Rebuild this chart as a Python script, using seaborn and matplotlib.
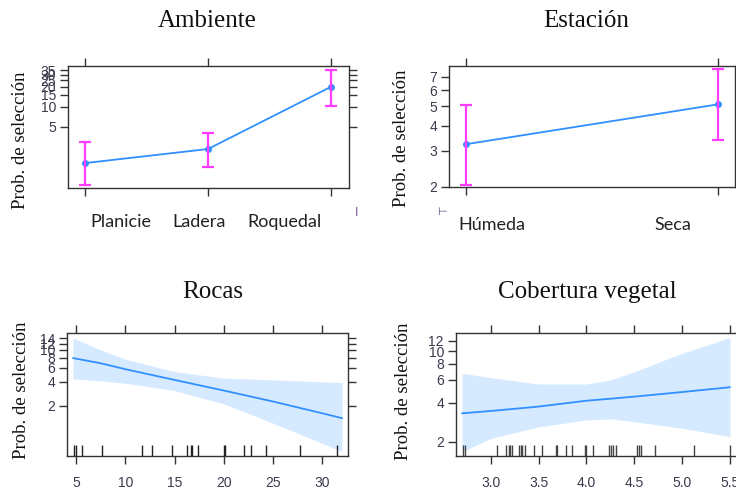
import matplotlib
matplotlib.use("Agg")
import matplotlib.pyplot as plt
from matplotlib.ticker import NullLocator, FixedLocator
import seaborn as sns
import numpy as np

# ---------------- data ----------------
amb_cats = ["Planicie", "Ladera", "Roquedal"]
amb_fit = [1.42, 2.31, 19.9]
amb_low = [0.66, 1.25, 10.2]
amb_up = [2.98, 4.06, 35.6]
amb_yticks = [5, 10, 15, 20, 25, 30, 35]

est_cats = ["Húmeda", "Seca"]
est_fit = [3.24, 5.1]
est_low = [2.04, 3.4]
est_up = [5.05, 7.6]
est_yticks = [2, 3, 4, 5, 6, 7]

rocas_x = [4.7, 7.5, 10, 15, 20, 25, 30, 32]
rocas_fit = [7.9, 6.8, 5.73, 4.2, 3.09, 2.25, 1.6, 1.39]
rocas_up = [14.0, 10.0, 7.65, 5.34, 4.42, 4.2, 3.97, 3.89]
rocas_low = [4.33, 4.08, 3.82, 3.09, 2.1, 1.2, 0.67, 0.53]
rocas_rug = [4.8, 4.97, 5.58, 7.6, 11.67, 12.69, 14.72, 16.24, 16.68, 16.75,
             17.36, 20.06, 20.13, 22.06, 22.77, 24.26, 27.74, 31.47]
rocas_xticks = [5, 10, 15, 20, 25, 30]
rocas_yticks = [2, 4, 6, 8, 10, 12, 14]

cob_x = [2.7, 3.0, 3.5, 4.0, 4.25, 4.5, 5.0, 5.5]
cob_fit = [3.31, 3.45, 3.73, 4.14, 4.29, 4.45, 4.83, 5.26]
cob_up = [6.74, 6.23, 5.57, 5.57, 5.98, 6.93, 9.61, 12.7]
cob_low = [1.67, 2.12, 2.6, 2.94, 3.0, 2.85, 2.54, 2.19]
cob_rug = [2.714, 2.735, 3.07, 3.16, 3.19, 3.20, 3.22, 3.30, 3.32, 3.33, 3.355,
           3.45, 3.54, 3.68, 3.69, 3.79, 3.85, 3.99, 4.0, 4.07, 4.24, 4.26,
           4.28, 4.31, 4.53, 4.55, 4.57, 4.72, 5.12, 5.5]
cob_xticks = [3.0, 3.5, 4.0, 4.5, 5.0, 5.5]
cob_yticks = [2, 4, 6, 8, 10, 12]

titles = ["Ambiente", "Estación", "Rocas", "Cobertura vegetal"]
ylabel = "Prob. de selección"

# ---------------- style ----------------
sns.set_style("white")
plt.rcParams['font.family'] = ['Liberation Sans', 'DejaVu Sans']

LINE = '#3090ff'
BAR = '#ff3cff'
BAND = '#d6eaff'
AX = '#333333'
TXT = '#3a3a4c'

W, H = 736, 491
fig = plt.figure(figsize=(W / 100, H / 100), dpi=100)
fig.patch.set_facecolor('white')


def px_axes(x0, y0, x1, y1):
    return fig.add_axes([x0 / W, 1 - y1 / H, (x1 - x0) / W, (y1 - y0) / H])


def ftext(x, y, s, **kw):
    fig.text(x / W, 1 - y / H, s, **kw)


def style(ax, yticks, ylim):
    ax.set_yscale('log')
    ax.set_ylim(*ylim)
    ax.yaxis.set_major_locator(FixedLocator(yticks))
    ax.yaxis.set_minor_locator(NullLocator())
    ax.set_yticklabels([str(t) for t in yticks])
    for sp in ax.spines.values():
        sp.set_color(AX)
        sp.set_linewidth(1.0)
        sp.set_visible(True)
    ax.tick_params(axis='both', which='both', direction='out', length=5.5,
                   width=1, color=AX, top=True, right=True, bottom=True, left=True,
                   labelcolor=TXT, labelsize=10)
    ax.tick_params(axis='y', pad=3)
    ax.tick_params(axis='x', pad=9)
    ax.set_xlabel('')
    ax.set_ylabel('')
    ax.set_facecolor('white')
    ax.grid(False)


# ---- Panel 1: Ambiente ----
ax1 = px_axes(68, 66, 349, 188)
idx1 = np.arange(len(amb_cats))
sns.lineplot(x=idx1, y=amb_fit, ax=ax1, color=LINE, lw=1.3, marker='o',
             markersize=5, markeredgewidth=0, markerfacecolor=LINE)
ax1.errorbar(idx1, amb_fit,
             yerr=[np.array(amb_fit) - np.array(amb_low), np.array(amb_up) - np.array(amb_fit)],
             fmt='none', ecolor=BAR, elinewidth=1.6, capsize=4.5, capthick=1.6, zorder=3)
ax1.set_xlim(-0.138, 2.146)
ax1.set_xticks(idx1)
ax1.set_xticklabels(['', '', ''])
style(ax1, amb_yticks, (0.60, 40.8))

# ---- Panel 2: Estación ----
ax2 = px_axes(449, 66, 735, 187)
idx2 = np.arange(1, len(est_cats) + 1)
sns.lineplot(x=idx2, y=est_fit, ax=ax2, color=LINE, lw=1.3, marker='o',
             markersize=5, markeredgewidth=0, markerfacecolor=LINE)
ax2.errorbar(idx2, est_fit,
             yerr=[np.array(est_fit) - np.array(est_low), np.array(est_up) - np.array(est_fit)],
             fmt='none', ecolor=BAR, elinewidth=1.6, capsize=4.5, capthick=1.6, zorder=3)
ax2.set_xlim(0.9325, 2.0687)
ax2.set_xticks(idx2)
ax2.set_xticklabels(['', ''])
style(ax2, est_yticks, (1.99, 7.9))

# ---- Panel 3: Rocas ----
ax3 = px_axes(67, 333, 348, 455.7)
ax3.fill_between(rocas_x, rocas_low, rocas_up, color=BAND, lw=0, zorder=1)
sns.lineplot(x=rocas_x, y=rocas_fit, ax=ax3, color=LINE, lw=1.3, zorder=2)
sns.rugplot(x=rocas_rug, ax=ax3, height=0.085, color='#222222', lw=1.0, zorder=3)
ax3.set_xlim(4.09, 32.6)
ax3.set_xticks(rocas_xticks)
ax3.set_xticklabels([str(t) for t in rocas_xticks])
style(ax3, rocas_yticks, (0.47, 16.3))

# ---- Panel 4: Cobertura vegetal ----
ax4 = px_axes(455.7, 333.3, 741, 455.7)
ax4.fill_between(cob_x, cob_low, cob_up, color=BAND, lw=0, zorder=1)
sns.lineplot(x=cob_x, y=cob_fit, ax=ax4, color=LINE, lw=1.3, zorder=2)
sns.rugplot(x=cob_rug, ax=ax4, height=0.085, color='#444444', lw=1.0, zorder=3)
ax4.set_xlim(2.634, 5.615)
ax4.set_xticks(cob_xticks)
ax4.set_xticklabels([f"{t:.1f}" for t in cob_xticks])
style(ax4, cob_yticks, (1.56, 13.7))

# ---- titles and labels ----
serif = ['Liberation Serif', 'DejaVu Serif']
ftext(207, 27, titles[0], family=serif, fontsize=18, ha='center', va='baseline', color='#111111')
ftext(586, 27, titles[1], family=serif, fontsize=18, ha='center', va='baseline', color='#111111')
ftext(213, 298, titles[2], family=serif, fontsize=18, ha='center', va='baseline', color='#111111')
ftext(587, 298, titles[3], family=serif, fontsize=18, ha='center', va='baseline', color='#111111')

for (x, y) in [(21, 140), (401, 138), (22, 390), (403, 391)]:
    ftext(x, y, ylabel, family=serif, fontsize=13.5, rotation=90,
          ha='center', va='center', color='#111111')

cat_font = ['Lato', 'DejaVu Sans']
for (x, s) in [(120.5, amb_cats[0]), (199, amb_cats[1]), (284.7, amb_cats[2])]:
    ftext(x, 226.7, s, family=cat_font, fontsize=13, ha='center', va='baseline', color='#222222')
for (x, s) in [(492, est_cats[0]), (673, est_cats[1])]:
    ftext(x, 230, s, family=cat_font, fontsize=13, ha='center', va='baseline', color='#222222')

# small stray marks present in the reference
ftext(356.7, 212.7, "I", fontsize=9, ha='center', va='center', color='#7a5a9a')
ftext(442, 212, "\u22A2", family=['DejaVu Sans'], fontsize=8, ha='center', va='center', color='#5a4a7a')

fig.savefig("out.png", dpi=100, facecolor='white')
